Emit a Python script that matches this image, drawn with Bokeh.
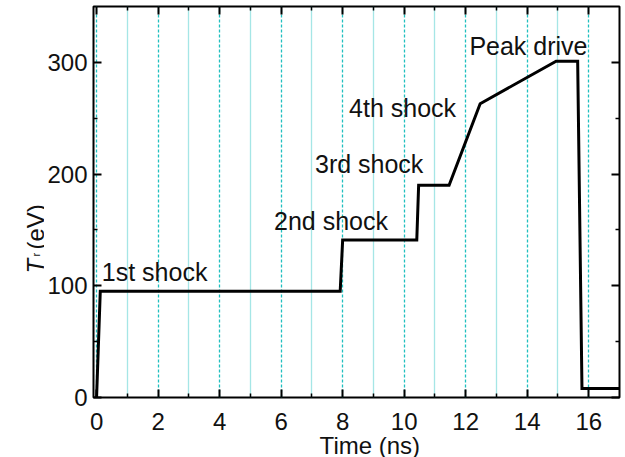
import math
from bokeh.plotting import figure
from bokeh.layouts import row
from bokeh.models import LinearAxis, Range1d, ColumnDataSource, FixedTicker
from bokeh.core.properties import value
from bokeh.embed import file_html
from bokeh.resources import INLINE

# --- data ---
time_ns = [0.0, 0.12, 7.92, 8.0, 10.41, 10.47, 11.46, 12.47, 14.94, 15.64, 15.78, 17.0]
tr_ev = [0, 95, 95, 141, 141, 190, 190, 263, 301, 301, 8, 8]

ann_text = ["1st shock", "2nd shock", "3rd shock", "4th shock", "Peak drive"]
ann_x = [0.17, 5.77, 7.10, 8.21, 12.12]
ann_y = [112, 158, 209, 259, 315]

x_ticks = [0, 2, 4, 6, 8, 10, 12, 14, 16]
x_minor = [1, 3, 5, 7, 9, 11, 13, 15]
y_ticks = [0, 100, 200, 300]
y_minor = [50, 150, 250]

FONT = "Liberation Sans"
FS = "24px"
AFS = "25px"
GRID = "#1fbfbf"
INK = "#111111"

W = 625
H = 466            # canvas; the window shows the top 457 px
LEFT_W = 44
FRAME_L, FRAME_R = 92, 619
FRAME_T, FRAME_B = 6, 397

yr = Range1d(0, 350)
p = figure(width=W - LEFT_W, height=H, output_backend="svg", toolbar_location=None,
           x_range=Range1d(-0.1, 17.0), y_range=yr,
           min_border_left=FRAME_L - LEFT_W, min_border_right=W - FRAME_R,
           min_border_top=FRAME_T, min_border_bottom=H - FRAME_B)
p.background_fill_color = "white"
p.border_fill_color = "white"
p.outline_line_color = "black"
p.outline_line_width = 2

# grid
g = p.xgrid[0]
g.ticker = FixedTicker(ticks=x_ticks, minor_ticks=x_minor)
g.grid_line_color = GRID
g.grid_line_dash = "3 2"
g.grid_line_width = 1.3
g.minor_grid_line_color = GRID
g.minor_grid_line_dash = "1 1"
g.minor_grid_line_width = 1.3
g.minor_grid_line_alpha = 0.8
p.ygrid[0].grid_line_color = None

def style_axis(ax, blank_ticks=None):
    ax.axis_line_color = None
    ax.major_tick_in = 8
    ax.major_tick_out = 0
    ax.minor_tick_in = 4
    ax.minor_tick_out = 0
    ax.major_tick_line_color = "black"
    ax.major_tick_line_width = 2
    ax.minor_tick_line_color = "black"
    ax.minor_tick_line_width = 1.5
    ax.major_label_text_font = FONT
    ax.major_label_text_font_size = FS
    ax.major_label_text_color = INK
    if blank_ticks is not None:
        ax.major_label_overrides = {t: "" for t in blank_ticks}
        ax.major_label_standoff = 0

xa = p.xaxis[0]
ya = p.yaxis[0]
xa.ticker = FixedTicker(ticks=x_ticks, minor_ticks=x_minor)
ya.ticker = FixedTicker(ticks=y_ticks, minor_ticks=y_minor)
style_axis(xa)
style_axis(ya)
xa.major_label_standoff = 15
ya.major_label_standoff = 6
xa.axis_label = "\u00a0\u00a0\u00a0\u00a0Time (ns)"
xa.axis_label_text_font = FONT
xa.axis_label_text_font_size = FS
xa.axis_label_text_font_style = "normal"
xa.axis_label_text_color = INK
xa.axis_label_standoff = -1

top = LinearAxis(ticker=FixedTicker(ticks=x_ticks, minor_ticks=x_minor))
style_axis(top, blank_ticks=x_ticks)
p.add_layout(top, "above")
right = LinearAxis(ticker=FixedTicker(ticks=y_ticks, minor_ticks=y_minor))
style_axis(right, blank_ticks=y_ticks)
p.add_layout(right, "right")

# the pulse
p.line(time_ns, tr_ev, line_color="black", line_width=3, line_join="miter")

# annotations
src = ColumnDataSource(dict(x=ann_x, y=ann_y, t=ann_text))
p.text(x="x", y="y", text="t", source=src, text_font=value(FONT), text_font_size=AFS,
       text_color=INK, text_align="left", text_baseline="alphabetic")

# y-axis title (italic T with subscript r) in a narrow strip sharing the y range
lab = figure(width=LEFT_W, height=H, output_backend="svg", toolbar_location=None,
             x_range=Range1d(0, LEFT_W), y_range=yr,
             x_axis_location=None, y_axis_location=None,
             min_border_left=0, min_border_right=0,
             min_border_top=FRAME_T, min_border_bottom=H - FRAME_B)
lab.outline_line_color = None
lab.grid.visible = False
lab.background_fill_color = "white"
lab.border_fill_color = "white"

PX = (FRAME_B - FRAME_T) / 350.0
def ydat(screen_y):
    return (FRAME_B - screen_y) / PX

A = math.pi / 2
lab.text(x=[35], y=[ydat(273)], text=["T"], angle=A, text_font=value(FONT),
         text_font_size=FS, text_font_style="italic", text_color=INK,
         text_align="left", text_baseline="alphabetic")
lab.text(x=[35], y=[ydat(256)], text=["r"], angle=A, text_font=value(FONT),
         text_font_size="11px", text_color=INK,
         text_align="left", text_baseline="alphabetic")
lab.text(x=[35], y=[ydat(249)], text=["(eV)"], angle=A, text_font=value(FONT),
         text_font_size=FS, text_color=INK,
         text_align="left", text_baseline="alphabetic")

layout = row(lab, p, spacing=0)
html = file_html(layout, INLINE)
html = html.replace("</head>", "<style>html,body{margin:0;overflow:hidden;}</style></head>", 1)
open("out.html", "w").write(html)
